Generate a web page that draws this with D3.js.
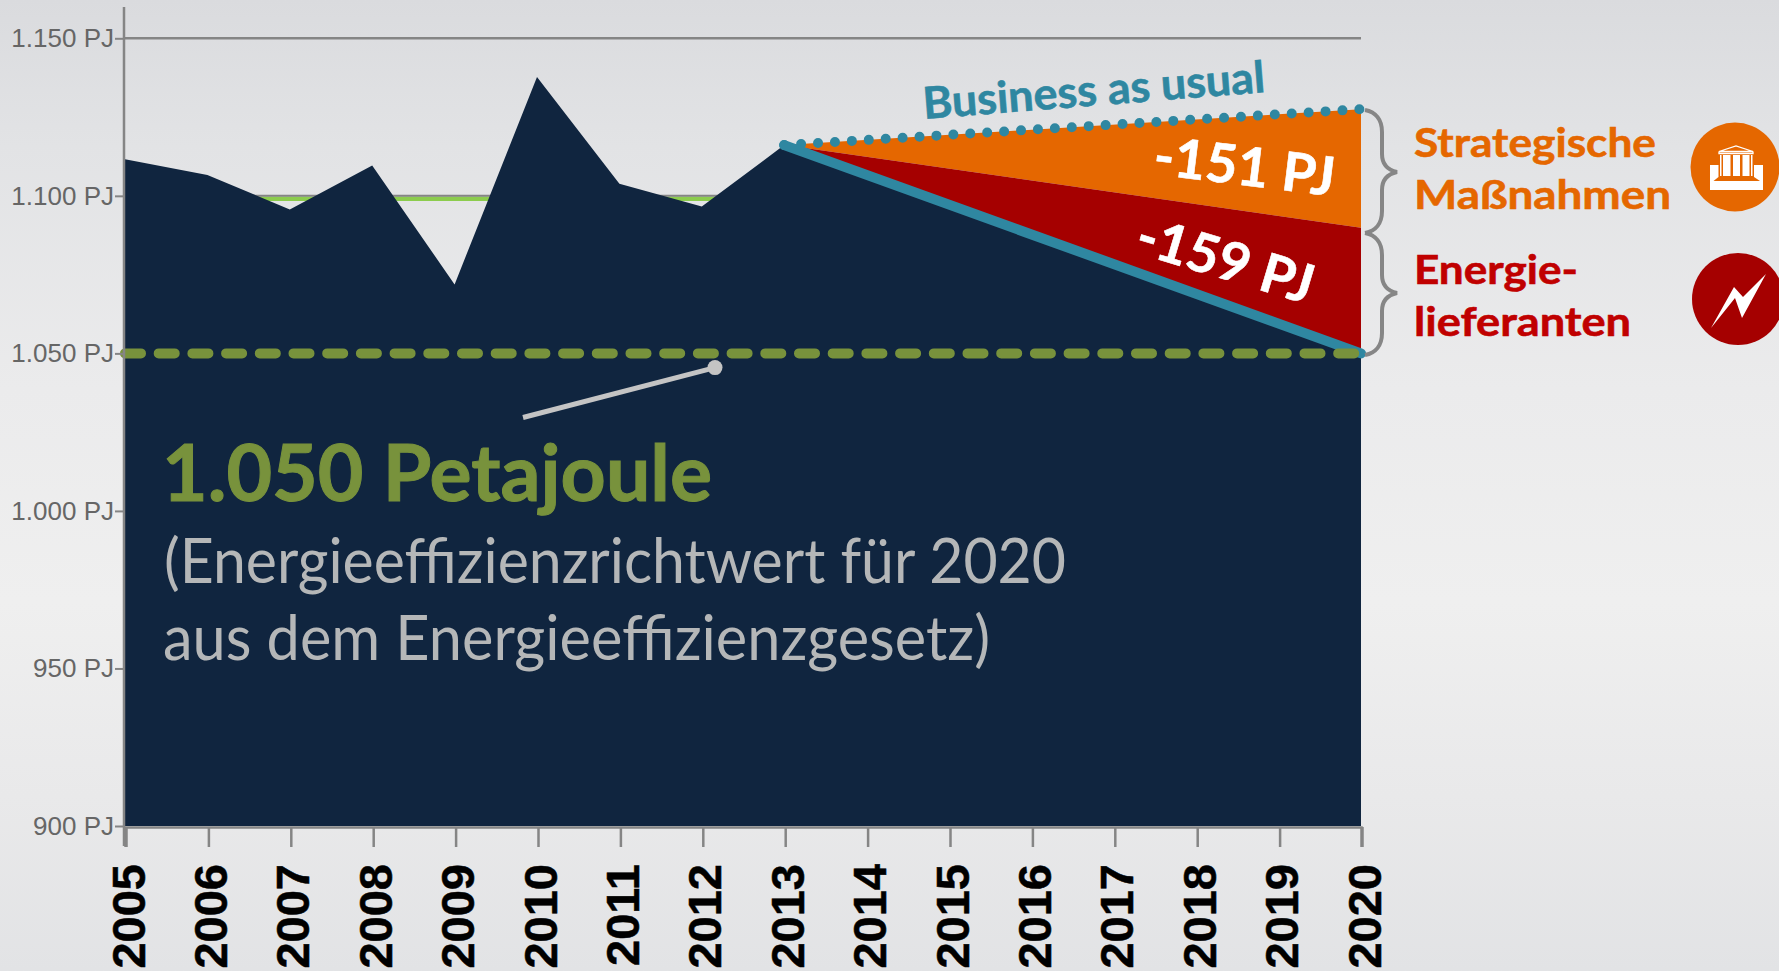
<!DOCTYPE html>
<html><head><meta charset="utf-8">
<script src="https://cdn.jsdelivr.net/npm/d3@7"></script>
<style>html,body{margin:0;padding:0;overflow:hidden;background:#ebebeb}svg{display:block}
text{font-family:Lato,sans-serif}
.axis text{font-family:"Liberation Sans",Arial,sans-serif}</style></head>
<body><script>
const years=[2005,2006,2007,2008,2009,2010,2011,2012,2013,2014,2015,2016,2017,2018,2019,2020];
const actualYears=[2005,2006,2007,2008,2009,2010,2011,2012,2013];
const actual=[1111.6,1106.6,1095.7,1109.6,1071.9,1137.7,1103.8,1096.6,1116.1];
const scenarioYears=[2013,2020];
const bau=[1116.1,1127.5];
const afterStrategic=[1116.1,1089.9];
const pathTarget=[1116.1,1050];
const target=1050;
const yTicks=[900,950,1000,1050,1100,1150];

const W=1779,H=971;
const svg=d3.select("body").append("svg").attr("width",W).attr("height",H);
const defs=svg.append("defs");
const g=defs.append("linearGradient").attr("id","bg").attr("x1",0).attr("y1",0).attr("x2",0).attr("y2",1);
[[0,"#dadbde"],[0.15,"#e2e3e5"],[0.4,"#ebebec"],[0.62,"#efefef"],[0.82,"#e9e9ea"],[1,"#e2e3e5"]].forEach(s=>g.append("stop").attr("offset",s[0]).attr("stop-color",s[1]));
svg.append("rect").attr("width",W).attr("height",H).attr("fill","url(#bg)");

const x=d3.scaleLinear().domain([2005,2020]).range([125,1361]);
const y=d3.scaleLinear().domain([900,1150]).range([826,38.3]);
const GREY="#858585";

svg.append("line").attr("x1",x(2005)).attr("x2",x(2020)).attr("y1",y(1150)).attr("y2",y(1150)).attr("stroke",GREY).attr("stroke-width",2.5);
svg.append("line").attr("x1",x(2005)).attr("x2",x(2013)).attr("y1",y(1100)+3).attr("y2",y(1100)+3).attr("stroke","#8ccc4e").attr("stroke-width",4.5);
svg.append("line").attr("x1",x(2005)).attr("x2",x(2013)).attr("y1",y(1100)).attr("y2",y(1100)).attr("stroke",GREY).attr("stroke-width",2);

const zip=(xs,ys)=>xs.map((d,i)=>[d,ys[i]]);
const navyPts=zip(actualYears,actual).concat([[2020,pathTarget[1]]]);
svg.append("path").attr("fill","#10253f")
  .attr("d",d3.area().x(d=>x(d[0])).y0(y(900)).y1(d=>y(d[1]))(navyPts));
const band=(a,b)=>d3.area().x(d=>x(d)).y0((d,i)=>y(b[i])).y1((d,i)=>y(a[i]))(scenarioYears);
svg.append("path").attr("fill","#e56700").attr("d",band(bau,afterStrategic));
svg.append("path").attr("fill","#a50000").attr("d",band(afterStrategic,pathTarget));

const line=d3.line().x((d,i)=>x(scenarioYears[i])).y(d=>y(d));
svg.append("path").attr("fill","none").attr("stroke","#2f87a1").attr("stroke-width",10)
  .attr("stroke-linecap","round").attr("stroke-dasharray","0 16.95").attr("d",line(bau));
svg.append("path").attr("fill","none").attr("stroke","#2f87a1").attr("stroke-width",10)
  .attr("stroke-linecap","round").attr("d",line(pathTarget));
svg.append("line").attr("x1",x(2005)).attr("x2",x(2020)-5).attr("y1",y(target)).attr("y2",y(target))
  .attr("stroke","#78923c").attr("stroke-width",10).attr("stroke-linecap","round").attr("stroke-dasharray","16 17.7");

const ax=svg.append("g").attr("class","axis").attr("transform",`translate(0,${y(900)+1})`)
  .call(d3.axisBottom(x).tickValues(years).tickFormat(d3.format("d")).tickSize(20).tickPadding(0));
ax.select(".domain").attr("stroke",GREY).attr("stroke-width",2.5);
ax.selectAll(".tick line").attr("stroke",GREY).attr("stroke-width",2.5).attr("transform","translate(1,0)");
ax.selectAll(".tick text").attr("transform","translate(19,37) rotate(-90)").attr("x",0).attr("y",0).attr("dy",0)
  .attr("text-anchor","end").attr("fill","#000").style("font-weight","700").style("font-size","47px")
  .attr("stroke","#000").attr("stroke-width",0.5);
const ay=svg.append("g").attr("class","axis").attr("transform",`translate(${x(2005)-1},0)`)
  .call(d3.axisLeft(y).tickValues(yTicks).tickSize(9).tickPadding(1).tickFormat(d=>d3.format(",")(d).replace(",",".")+" PJ"));
ay.select(".domain").remove();
svg.append("line").attr("x1",x(2005)-1).attr("x2",x(2005)-1).attr("y1",7).attr("y2",846).attr("stroke",GREY).attr("stroke-width",2.5);
ay.selectAll(".tick line").attr("stroke",GREY).attr("stroke-width",2);
ay.selectAll(".tick text").attr("fill","#666").style("font-size","26px");

svg.append("line").attr("x1",523).attr("y1",417.5).attr("x2",715).attr("y2",367.6).attr("stroke","#c4c4c4").attr("stroke-width",5);
svg.append("circle").attr("cx",715).attr("cy",367.6).attr("r",7.5).attr("fill","#c4c4c4");

function t(s,px,py,size,fill,weight,len,rot,sw){
  const e=svg.append("text").attr("fill",fill).attr("font-size",size).attr("font-weight",weight)
   .attr("textLength",len).attr("lengthAdjust","spacingAndGlyphs").text(s);
  e.attr("transform",`translate(${px},${py}) rotate(${rot||0})`);
  if(sw) e.attr("stroke",fill).attr("stroke-width",sw);
  return e;
}
t("1.050 Petajoule",162,501,79,"#78923c",700,550,0,1);
t("(Energieeffizienzrichtwert für 2020",164,583,62,"#b5b7b8",400,902);
t("aus dem Energieeffizienzgesetz)",163,660,62,"#b5b7b8",400,827);
t("Business as usual",924,119,44,"#2f87a1",700,343,-4.5,0.6);
t("-151 PJ",1152,174,54,"#fff",700,182,7,0.6);
t("-159 PJ",1133,252,54,"#fff",700,182,16.7,0.6);
t("Strategische",1414,157,41,"#e56700",700,242,0,0.6);
t("Maßnahmen",1414,209,41,"#e56700",700,257,0,0.6);
t("Energie-",1414,284,41,"#c00000",700,164,0,0.6);
t("lieferanten",1414,336,41,"#c00000",700,217,0,0.6);

const brace=(y0,ym,y1)=>`M1365,${y0} C1376,${y0+2} 1382,${y0+10} 1382,${y0+22} L1382,${ym-18} C1382,${ym-8} 1388,${ym-2} 1397,${ym} C1388,${ym+2} 1382,${ym+8} 1382,${ym+18} L1382,${y1-22} C1382,${y1-10} 1376,${y1-2} 1365,${y1}`;
svg.append("path").attr("d",brace(110,172,233)).attr("fill","none").attr("stroke","#868686").attr("stroke-width",4);
svg.append("path").attr("d",brace(233,293,355)).attr("fill","none").attr("stroke","#868686").attr("stroke-width",4);

// building icon
svg.append("circle").attr("cx",1735).attr("cy",167).attr("r",44.5).attr("fill","#e56700");
svg.append("rect").attr("x",1710).attr("y",165).attr("width",53).attr("height",25).attr("fill","#fff");
svg.append("path").attr("fill","#e56700").attr("d","M1718.5,155 H1754 V177 L1760,181 H1713.5 L1718.5,177 Z");
svg.append("path").attr("fill","#fff").attr("d","M1720,155 h1.5 v21 h-1.5 Z M1723,155 h7.5 v21 h-7.5 Z M1733,155 h7 v21 h-7 Z M1742.5,155 h7 v21 h-7 Z M1751,155 h1.5 v21 h-1.5 Z");
svg.append("path").attr("fill","none").attr("stroke","#fff").attr("stroke-width",1.3).attr("d","M1719,151.5 L1736,146 L1753,151.5 Z M1719,151.5 V153.5 H1753 V151.5");

// lightning icon
svg.append("circle").attr("cx",1738).attr("cy",299).attr("r",46).attr("fill","#a50000");
svg.append("path").attr("fill","#fff")
 .attr("d","M1766,274 L1742,318 L1735,298 L1711,328 L1734,287 L1743,297 Z");
</script></body></html>
